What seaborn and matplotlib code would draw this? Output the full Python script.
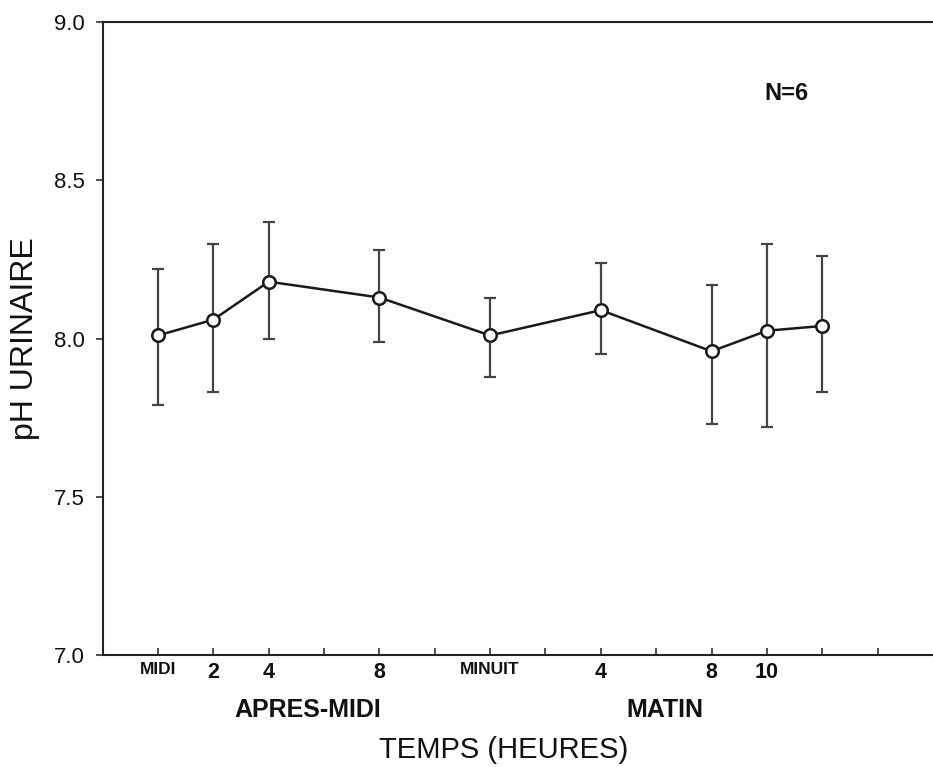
import matplotlib
matplotlib.use("Agg")
import matplotlib.pyplot as plt
import seaborn as sns
import pandas as pd
import numpy as np

# Data
hours = [12, 14, 16, 20, 24, 28, 32, 34, 36]
ph_mean = [8.01, 8.06, 8.18, 8.13, 8.01, 8.09, 7.96, 8.025, 8.04]
ph_upper = [8.22, 8.30, 8.37, 8.28, 8.13, 8.24, 8.17, 8.30, 8.26]
ph_lower = [7.79, 7.83, 8.00, 7.99, 7.88, 7.95, 7.73, 7.72, 7.83]
tick_positions = [12, 14, 16, 20, 24, 28, 32, 34]
tick_labels = ["MIDI", "2", "4", "8", "MINUIT", "4", "8", "10"]
minor_ticks = list(range(12, 40, 2))
y_ticks = [7.0, 7.5, 8.0, 8.5, 9.0]

df = pd.DataFrame({"hour": hours, "ph": ph_mean})

sns.set_theme(style="white")
plt.rcParams['font.family'] = ['Liberation Sans', 'DejaVu Sans']
plt.rcParams['text.color'] = '#111111'
plt.rcParams['axes.labelcolor'] = '#111111'
plt.rcParams['xtick.color'] = '#111111'
plt.rcParams['ytick.color'] = '#111111'

fig = plt.figure(figsize=(9.33, 7.67), dpi=100)
ax = fig.add_axes([0.110, 0.146, 0.89, 0.825])

yerr = [np.array(ph_mean) - np.array(ph_lower), np.array(ph_upper) - np.array(ph_mean)]
ax.errorbar(hours, ph_mean, yerr=yerr, fmt="none", ecolor="#444444",
            elinewidth=1.6, capsize=4.5, capthick=1.6, zorder=2)
sns.lineplot(data=df, x="hour", y="ph", ax=ax, color="#1a1a1a", linewidth=1.8,
             marker="o", markersize=9, markerfacecolor="white",
             markeredgecolor="#1a1a1a", markeredgewidth=1.8, zorder=3)

ax.set_xlim(10, 40)
ax.set_ylim(7.0, 9.0)

ax.set_xticks(minor_ticks)
ax.set_xticklabels([""] * len(minor_ticks))
ax.tick_params(axis="x", direction="in", length=5, width=1.2, color="#333333", bottom=True)
for pos, lab in zip(tick_positions, tick_labels):
    ax.text(pos, 6.977, lab, ha="center", va="top",
            fontsize=12.5 if lab in ("MIDI", "MINUIT") else 15.5,
            fontweight="bold", transform=ax.transData, clip_on=False)

ax.set_yticks(y_ticks)
ax.set_yticklabels(["7.0", "7.5", "8.0", "8.5", "9.0"], fontsize=16)
ax.tick_params(axis="y", direction="out", length=5, width=1.2, color="#333333", left=True, pad=8)

for s in ["left", "bottom", "top"]:
    ax.spines[s].set_color("#222222")
    ax.spines[s].set_linewidth(1.5)
ax.spines["right"].set_visible(False)

ax.set_xlabel("")
ax.set_ylabel("pH URINAIRE", fontsize=23, labelpad=10)

ax.text(17.4, 6.865, "APRES-MIDI", ha="center", va="top", fontsize=18, fontweight="bold",
        clip_on=False)
ax.text(30.3, 6.865, "MATIN", ha="center", va="top", fontsize=18, fontweight="bold",
        clip_on=False)
ax.text(24.5, 6.745, "TEMPS (HEURES)", ha="center", va="top", fontsize=21,
        clip_on=False)

ax.text(34.7, 8.775, "N=6", ha="center", va="center", fontsize=17, fontweight="bold")

fig.savefig("out.png", dpi=100)
